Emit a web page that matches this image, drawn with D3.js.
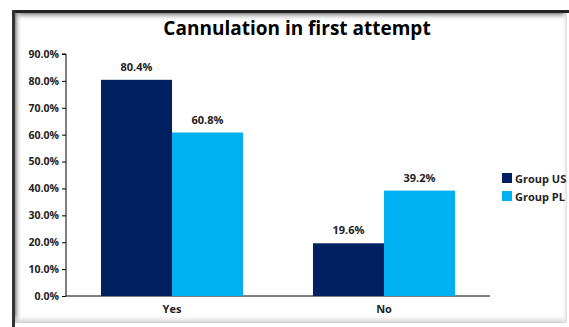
<!DOCTYPE html>
<html>
<head>
<meta charset="utf-8">
<script src="https://cdn.jsdelivr.net/npm/d3@7"></script>
<style>
  body { margin: 0; background: #fff; }
  svg { display: block; font-family: "Open Sans", "Noto Sans", sans-serif; }
</style>
</head>
<body>
<div id="chart"></div>
<script>
const categories = ["Yes", "No"];
const groups = ["Group US", "Group PL"];
const usValues = [80.4, 19.6];
const plValues = [60.8, 39.2];
const yTicks = [0, 10, 20, 30, 40, 50, 60, 70, 80, 90];
const colors = ["#002060", "#00b0f0"];

const W = 569, H = 327;
const svg = d3.select("#chart").append("svg")
  .attr("width", W).attr("height", H);

// frame with shadow
const defs = svg.append("defs");
const gTop = defs.append("linearGradient").attr("id", "shTop").attr("x1", 0).attr("y1", 0).attr("x2", 0).attr("y2", 1);
gTop.append("stop").attr("offset", 0).attr("stop-color", "#888");
gTop.append("stop").attr("offset", 1).attr("stop-color", "#fff").attr("stop-opacity", 0);
const gLeft = defs.append("linearGradient").attr("id", "shLeft").attr("x1", 0).attr("y1", 0).attr("x2", 1).attr("y2", 0);
gLeft.append("stop").attr("offset", 0).attr("stop-color", "#888");
gLeft.append("stop").attr("offset", 1).attr("stop-color", "#fff").attr("stop-opacity", 0);
const gBot = defs.append("linearGradient").attr("id", "shBot").attr("x1", 0).attr("y1", 1).attr("x2", 0).attr("y2", 0);
gBot.append("stop").attr("offset", 0).attr("stop-color", "#ccc");
gBot.append("stop").attr("offset", 1).attr("stop-color", "#fff").attr("stop-opacity", 0);
const gRight = defs.append("linearGradient").attr("id", "shRight").attr("x1", 1).attr("y1", 0).attr("x2", 0).attr("y2", 0);
gRight.append("stop").attr("offset", 0).attr("stop-color", "#ddd");
gRight.append("stop").attr("offset", 1).attr("stop-color", "#fff").attr("stop-opacity", 0);

svg.append("rect").attr("x", 15).attr("y", 13).attr("width", 552).attr("height", 8).attr("fill", "url(#shTop)");
svg.append("rect").attr("x", 15).attr("y", 13).attr("width", 7).attr("height", 310).attr("fill", "url(#shLeft)");
svg.append("rect").attr("x", 15).attr("y", 314).attr("width", 552).attr("height", 9).attr("fill", "url(#shBot)");
svg.append("rect").attr("x", 561).attr("y", 13).attr("width", 6).attr("height", 310).attr("fill", "url(#shRight)");
svg.append("rect").attr("x", 12).attr("y", 10).attr("width", 557).attr("height", 3).attr("fill", "#222");
svg.append("rect").attr("x", 12).attr("y", 10).attr("width", 3).attr("height", 317).attr("fill", "#333");

// title
svg.append("text")
  .attr("x", 297).attr("y", 35)
  .attr("text-anchor", "middle")
  .attr("font-size", 19).attr("font-weight", "bold")
  .attr("fill", "#000")
  .text("Cannulation in first attempt");

const plot = { left: 66, right: 490, top: 54, bottom: 296 };

const y = d3.scaleLinear().domain([0, 90]).range([plot.bottom, plot.top]);
const x0 = d3.scaleBand().domain(categories).range([plot.left, plot.right]).paddingInner(0.33).paddingOuter(0.165);
const x1 = d3.scaleBand().domain(groups).range([0, x0.bandwidth()]);

const yAxis = svg.append("g")
  .attr("transform", `translate(${plot.left},0)`)
  .call(d3.axisLeft(y).tickValues(yTicks).tickSize(4).tickPadding(3).tickFormat(d => d.toFixed(1) + "%"));
yAxis.select(".domain").attr("stroke", "#000").attr("d", `M-4,${plot.top}H0V${plot.bottom}`);
yAxis.selectAll(".tick line").attr("stroke", "#000");
yAxis.selectAll(".tick text").attr("font-size", 10.5).attr("font-weight", "bold").attr("fill", "#222")
  .attr("font-family", "'Open Sans', sans-serif");

const xAxis = svg.append("g")
  .attr("transform", `translate(0,${plot.bottom})`)
  .call(d3.axisBottom(x0).tickSize(0).tickPadding(9));
xAxis.select(".domain").attr("stroke", "#000").attr("d", `M${plot.left},0H${plot.right}`);
xAxis.selectAll(".tick text").attr("font-size", 11).attr("font-weight", "bold").attr("fill", "#222")
  .attr("font-family", "'Open Sans', sans-serif");

const rows = categories.map((c, i) => ({ cat: c, vals: [usValues[i], plValues[i]] }));

const cat = svg.append("g").selectAll("g").data(rows).join("g")
  .attr("transform", d => `translate(${x0(d.cat)},0)`);

cat.selectAll("rect").data(d => d.vals.map((v, j) => ({ g: groups[j], v, j }))).join("rect")
  .attr("x", d => x1(d.g))
  .attr("y", d => y(d.v))
  .attr("width", x1.bandwidth())
  .attr("height", d => y(0) - y(d.v))
  .attr("fill", d => colors[d.j]);

cat.selectAll("text").data(d => d.vals.map((v, j) => ({ g: groups[j], v, j }))).join("text")
  .attr("x", d => x1(d.g) + x1.bandwidth() / 2)
  .attr("y", d => y(d.v) - 9)
  .attr("text-anchor", "middle")
  .attr("font-size", 11).attr("font-weight", "bold").attr("fill", "#222")
  .text(d => d.v.toFixed(1) + "%");

// legend
const legend = svg.append("g").attr("transform", "translate(502,173)");
const li = legend.selectAll("g").data(groups).join("g")
  .attr("transform", (d, i) => `translate(0,${i * 18})`);
li.append("rect").attr("width", 10).attr("height", 10).attr("fill", (d, i) => colors[i]);
li.append("text").attr("x", 13).attr("y", 9.5)
  .attr("font-size", 11).attr("font-weight", "bold").attr("fill", "#222")
  .text(d => d);
</script>
</body>
</html>
